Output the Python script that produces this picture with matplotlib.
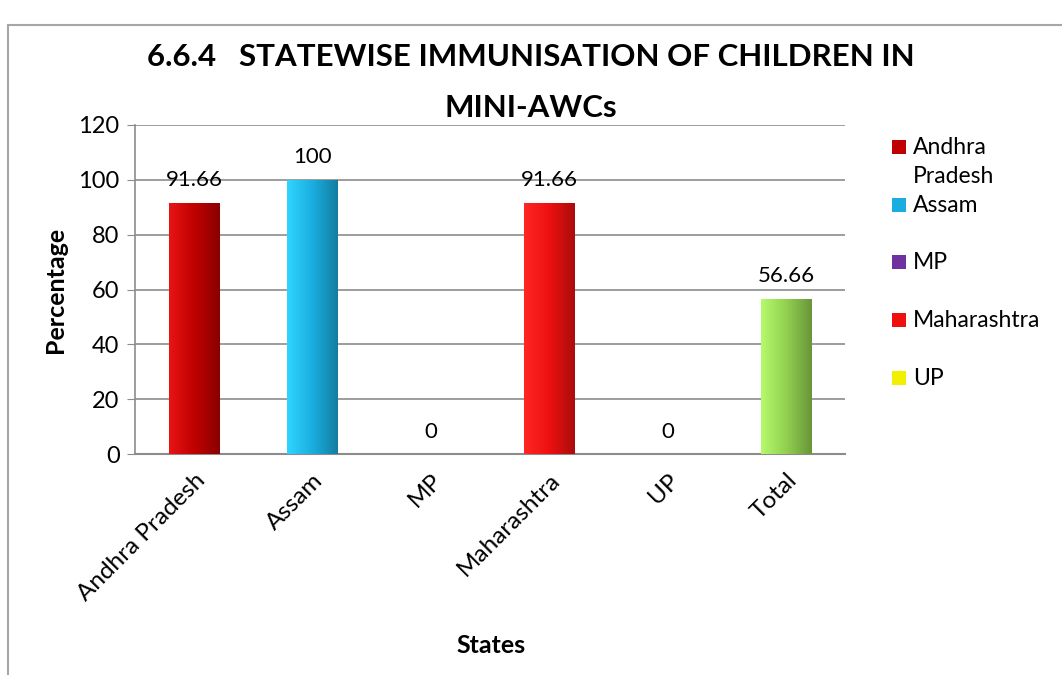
import matplotlib.pyplot as plt
import numpy as np
from matplotlib.colors import LinearSegmentedColormap, to_rgb
from matplotlib.patches import Rectangle

# data
states = ["Andhra Pradesh", "Assam", "MP", "Maharashtra", "UP", "Total"]
values = [91.66, 100, 0, 91.66, 0, 56.66]
labels = ["91.66", "100", "0", "91.66", "0", "56.66"]
colors = ["#c00000", "#1aaee0", "#7030a0", "#ee1010", "#f0f000", "#92d050"]
legend_names = ["Andhra\nPradesh", "Assam", "MP", "Maharashtra", "UP"]

plt.rcParams['font.family'] = ['Lato', 'DejaVu Sans']

fig = plt.figure(figsize=(10.62, 6.75), dpi=100)
ax = fig.add_axes([0.127, 0.327, 0.669, 0.488])

# outer frame (left + top) like the pasted chart box
fig.add_artist(plt.Line2D([0.008, 0.008], [0.0, 0.963], color="#a6a6a6", lw=1.5))
fig.add_artist(plt.Line2D([0.008, 1.0], [0.963, 0.963], color="#a6a6a6", lw=1.5))

x = np.arange(len(states))
bars = ax.bar(x, values, width=0.43, color=colors, zorder=2)

# simple horizontal shading to imitate the bevelled bars
for b, c in zip(bars, colors):
    h = b.get_height()
    if h <= 0:
        continue
    base = np.array(to_rgb(c))
    cmap = LinearSegmentedColormap.from_list(
        "g", [np.clip(base * 1.1 + 0.08, 0, 1), base, base * 0.72])
    grad = np.linspace(0, 1, 64).reshape(1, -1)
    im = ax.imshow(grad, cmap=cmap, aspect="auto", zorder=3,
                   extent=[b.get_x(), b.get_x() + b.get_width(), 0, h])
    im.set_clip_path(b)

for xi, v, lab in zip(x, values, labels):
    ax.annotate(lab, (xi, v), xytext=(0, 9), textcoords="offset points",
                ha="center", va="bottom", fontsize=16)

ax.set_xlim(-0.5, len(states) - 0.5)
ax.set_ylim(0, 120)
ax.set_yticks(range(0, 121, 20))
ax.yaxis.grid(True, color="#8c8c8c", lw=1.2, zorder=0)
ax.set_axisbelow(True)
for s in ["top", "right"]:
    ax.spines[s].set_visible(False)
ax.spines["left"].set_color("#8c8c8c")
ax.spines["bottom"].set_color("#8c8c8c")
ax.spines["left"].set_linewidth(1.2)
ax.spines["bottom"].set_linewidth(1.5)
ax.tick_params(axis="y", length=6, color="#8c8c8c", labelsize=17, pad=5)
ax.tick_params(axis="x", length=0, labelsize=17.5, pad=11)
ax.set_xticks(x)
ax.set_xticklabels(states, rotation=45, ha="right", rotation_mode="anchor")

ax.set_ylabel("Percentage", fontsize=18, fontweight="bold", labelpad=8)
fig.text(0.462, 0.043, "States", ha="center", va="center", fontsize=18,
         fontweight="bold")
fig.text(0.50, 0.915, "6.6.4   STATEWISE IMMUNISATION OF CHILDREN IN",
         ha="center", va="center", fontsize=22.5, fontweight="bold")
fig.text(0.50, 0.84, "MINI-AWCs",
         ha="center", va="center", fontsize=22.5, fontweight="bold")

# legend drawn by hand so the marker lines up with the first text line
leg_y = [147, 205, 262, 320, 378]
for c, name, yp in zip(colors[:5], legend_names, leg_y):
    fy = 1 - yp / 675
    fig.add_artist(Rectangle((892 / 1062, fy - 7 / 675), 14 / 1062, 14 / 675,
                             facecolor=c, transform=fig.transFigure))
    fig.text(913 / 1062, fy + 10 / 675, name, ha="left", va="top",
             fontsize=16.5, linespacing=1.45)

fig.savefig("out.png", dpi=100)
